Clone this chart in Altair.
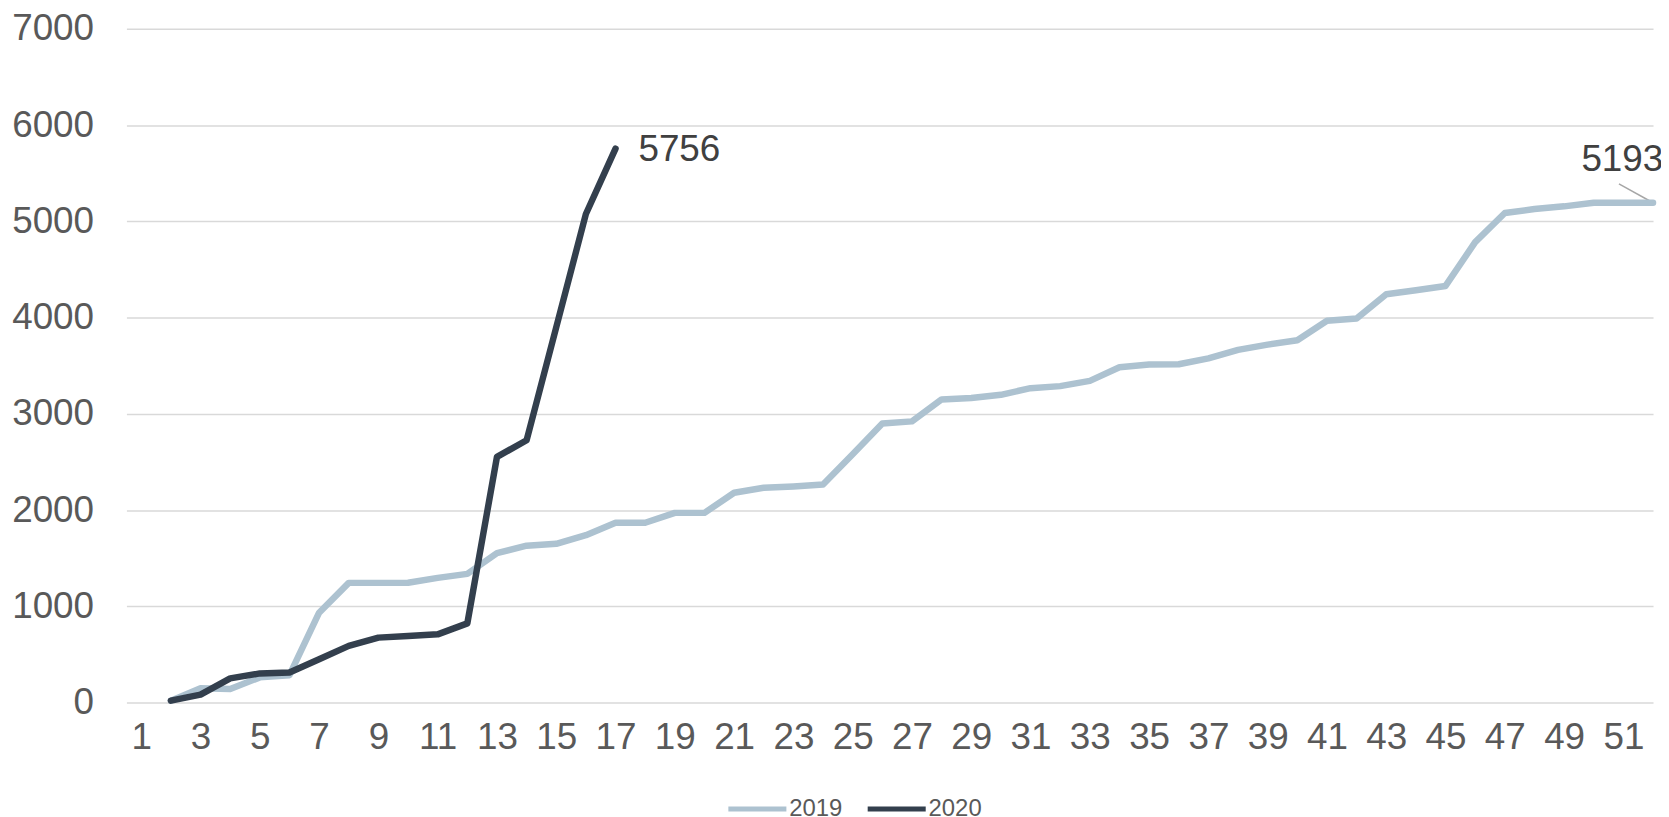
import altair as alt
import pandas as pd

weeks_2019 = list(range(2, 53))
values_2019 = [20, 148, 141, 262, 285, 934, 1244, 1244, 1245, 1296, 1337, 1554, 1630,
               1650, 1739, 1868, 1868, 1971, 1971, 2180, 2232, 2246, 2265, 2580, 2899,
               2922, 3150, 3164, 3198, 3267, 3288, 3343, 3484, 3512, 3515, 3577, 3664,
               3719, 3765, 3967, 3991, 4243, 4284, 4329, 4784, 5087, 5128, 5156, 5193,
               5193, 5193]
weeks_2020 = list(range(2, 18))
values_2020 = [20, 82, 251, 303, 313, 451, 589, 675, 692, 709, 823, 2553, 2726, 3900,
               5076, 5756]
x_ticks = list(range(1, 52, 2))
y_ticks = [0, 1000, 2000, 3000, 4000, 5000, 6000, 7000]

df = pd.DataFrame({
    "week": weeks_2019 + weeks_2020,
    "value": values_2019 + values_2020,
    "year": ["2019"] * len(weeks_2019) + ["2020"] * len(weeks_2020),
})

label_2020 = pd.DataFrame({"week": [weeks_2020[-1]], "value": [values_2020[-1]],
                           "text": [str(values_2020[-1])]})
label_2019 = pd.DataFrame({"week": [weeks_2019[-1]], "value": [values_2019[-1]],
                           "text": [str(values_2019[-1])]})
leader = pd.DataFrame({"week": [weeks_2019[-1]], "value": [values_2019[-1]],
                       "week2": [50.85], "value2": [5390]})

FONT = "Liberation Sans"
xscale = alt.Scale(domain=[0.5, 52], nice=False, zero=False)
yscale = alt.Scale(domain=[0, 7000], nice=False)

lines = alt.Chart(df).mark_line(strokeWidth=6.5, strokeCap="round", strokeJoin="round").encode(
    x=alt.X("week:Q", scale=xscale,
            axis=alt.Axis(values=x_ticks, title=None, grid=False, domain=False, ticks=False,
                          labelFontSize=37, labelColor="#595959", labelFont=FONT,
                          labelPadding=17, labelFlush=False, labelOverlap=False, format="d")),
    y=alt.Y("value:Q", scale=yscale,
            axis=alt.Axis(values=y_ticks, title=None, grid=True, gridColor="#D9D9D9",
                          gridWidth=1.5, domain=False, ticks=False, format="d",
                          labelFontSize=37, labelColor="#595959", labelFont=FONT,
                          labelPadding=33)),
    color=alt.Color("year:N",
                    scale=alt.Scale(domain=["2019", "2020"], range=["#ADC2D0", "#333F4D"]),
                    legend=alt.Legend(title=None, orient="none", direction="horizontal",
                                      legendX=602, legendY=752,
                                      symbolType="stroke", symbolSize=3400,
                                      symbolStrokeWidth=5, labelFontSize=24,
                                      labelColor="#595959", labelFont=FONT,
                                      labelOffset=0, columnPadding=14)),
)

text20 = alt.Chart(label_2020).mark_text(
    align="left", baseline="middle", dx=23, dy=1, fontSize=37, font=FONT, color="#404040"
).encode(x=alt.X("week:Q", scale=xscale), y=alt.Y("value:Q", scale=yscale), text="text:N")

text19 = alt.Chart(label_2019).mark_text(
    align="left", baseline="middle", dx=-72, dy=-43, fontSize=37, font=FONT, color="#404040"
).encode(x=alt.X("week:Q", scale=xscale), y=alt.Y("value:Q", scale=yscale), text="text:N")

rule = alt.Chart(leader).mark_rule(color="#A6A6A6", strokeWidth=1.5).encode(
    x=alt.X("week:Q", scale=xscale), y=alt.Y("value:Q", scale=yscale),
    x2="week2:Q", y2="value2:Q")

chart = alt.layer(rule, lines, text20, text19).properties(
    width=1534, height=677,
    background="white",
    autosize=alt.AutoSizeParams(type="none"),
    padding={"left": 119, "top": 19, "right": 8, "bottom": 112},
).configure_view(stroke="transparent", strokeWidth=0)

chart.save("out.html", embed_options={"renderer": "svg", "actions": False})
